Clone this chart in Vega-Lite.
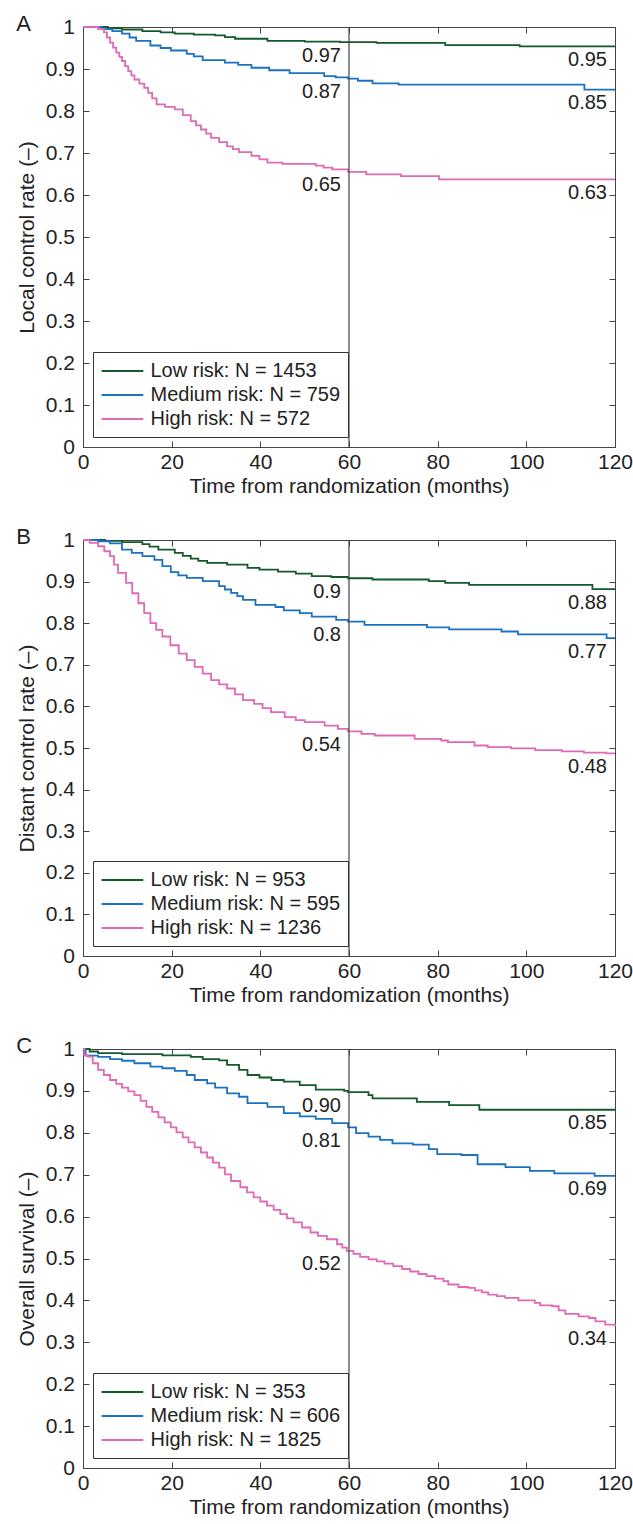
{
  "$schema": "https://vega.github.io/schema/vega-lite/v6.json",
  "padding": {"left": 15, "top": 12, "right": 0, "bottom": 0},
  "bounds": "flush",
  "spacing": 93,
  "config": {
    "font": "Liberation Sans",
    "view": {"stroke": "#444", "strokeWidth": 1},
    "axis": {"grid": false, "domain": false, "tickColor": "#444", "tickWidth": 1, "tickSize": -6, "labelFontSize": 21, "titleFontSize": 21, "titleFontWeight": "normal", "labelColor": "#222", "titleColor": "#222", "labelFlush": false, "labelOverlap": false},
    "title": {"fontSize": 22, "fontWeight": "normal", "color": "#222", "anchor": "start", "frame": "bounds", "baseline": "alphabetic", "offset": 0, "dy": 24},
    "legend": {"orient": "bottom-left", "offset": 10, "direction": "vertical", "strokeColor": "#333", "fillColor": "white", "padding": 7.5, "labelFontSize": 20, "labelColor": "#222", "symbolType": "M-1,0H3", "symbolSize": 435, "symbolStrokeWidth": 2, "labelOffset": 27, "rowPadding": 2, "labelLimit": 400, "title": null}
  },
  "datasets": {
    "A": [
      {"risk":"Low","t":0,"v":1},{"risk":"Low","t":5.6,"v":0.997},{"risk":"Low","t":8.8,"v":0.994},{"risk":"Low","t":13.4,"v":0.99},{"risk":"Low","t":17.5,"v":0.987},{"risk":"Low","t":20.7,"v":0.984},{"risk":"Low","t":25,"v":0.982},{"risk":"Low","t":29.8,"v":0.98},{"risk":"Low","t":32,"v":0.976},{"risk":"Low","t":34.3,"v":0.972},{"risk":"Low","t":41.6,"v":0.967},{"risk":"Low","t":50,"v":0.965},{"risk":"Low","t":58,"v":0.964},{"risk":"Low","t":66.2,"v":0.962},{"risk":"Low","t":81.7,"v":0.957},{"risk":"Low","t":98.5,"v":0.954},{"risk":"Low","t":120,"v":0.954},
      {"risk":"Medium","t":0,"v":1},{"risk":"Medium","t":4.3,"v":0.995},{"risk":"Medium","t":6.6,"v":0.99},{"risk":"Medium","t":8.8,"v":0.984},{"risk":"Medium","t":10.5,"v":0.975},{"risk":"Medium","t":12,"v":0.967},{"risk":"Medium","t":15.2,"v":0.956},{"risk":"Medium","t":17.5,"v":0.95},{"risk":"Medium","t":19.8,"v":0.944},{"risk":"Medium","t":23.4,"v":0.936},{"risk":"Medium","t":25,"v":0.93},{"risk":"Medium","t":27,"v":0.921},{"risk":"Medium","t":32,"v":0.915},{"risk":"Medium","t":35,"v":0.91},{"risk":"Medium","t":38,"v":0.903},{"risk":"Medium","t":42,"v":0.897},{"risk":"Medium","t":46.6,"v":0.89},{"risk":"Medium","t":54.4,"v":0.883},{"risk":"Medium","t":57,"v":0.88},{"risk":"Medium","t":59.8,"v":0.877},{"risk":"Medium","t":62,"v":0.872},{"risk":"Medium","t":65.3,"v":0.866},{"risk":"Medium","t":71.2,"v":0.863},{"risk":"Medium","t":113.1,"v":0.851},{"risk":"Medium","t":120,"v":0.851},
      {"risk":"High","t":0,"v":1},{"risk":"High","t":3.4,"v":0.995},{"risk":"High","t":4.7,"v":0.987},{"risk":"High","t":5.4,"v":0.975},{"risk":"High","t":6.1,"v":0.963},{"risk":"High","t":6.8,"v":0.951},{"risk":"High","t":7.5,"v":0.939},{"risk":"High","t":8.2,"v":0.929},{"risk":"High","t":8.8,"v":0.919},{"risk":"High","t":9.5,"v":0.907},{"risk":"High","t":10.2,"v":0.895},{"risk":"High","t":10.9,"v":0.885},{"risk":"High","t":11.6,"v":0.875},{"risk":"High","t":12.7,"v":0.865},{"risk":"High","t":13.8,"v":0.855},{"risk":"High","t":14.7,"v":0.843},{"risk":"High","t":15.6,"v":0.83},{"risk":"High","t":16.6,"v":0.816},{"risk":"High","t":18.5,"v":0.81},{"risk":"High","t":20.7,"v":0.804},{"risk":"High","t":22.5,"v":0.79},{"risk":"High","t":24.3,"v":0.776},{"risk":"High","t":25.5,"v":0.766},{"risk":"High","t":26.6,"v":0.756},{"risk":"High","t":27.8,"v":0.746},{"risk":"High","t":28.9,"v":0.736},{"risk":"High","t":30.7,"v":0.726},{"risk":"High","t":32.5,"v":0.716},{"risk":"High","t":33.8,"v":0.709},{"risk":"High","t":35.2,"v":0.702},{"risk":"High","t":38,"v":0.693},{"risk":"High","t":39.8,"v":0.685},{"risk":"High","t":41.6,"v":0.677},{"risk":"High","t":45,"v":0.674},{"risk":"High","t":52.5,"v":0.67},{"risk":"High","t":54.3,"v":0.665},{"risk":"High","t":56.2,"v":0.661},{"risk":"High","t":59.8,"v":0.655},{"risk":"High","t":63.9,"v":0.649},{"risk":"High","t":71.7,"v":0.645},{"risk":"High","t":80.3,"v":0.637},{"risk":"High","t":120,"v":0.637}
    ],
    "B": [
      {"risk":"Low","t":0,"v":1},{"risk":"Low","t":5,"v":0.998},{"risk":"Low","t":8.8,"v":0.995},{"risk":"Low","t":13.4,"v":0.99},{"risk":"Low","t":15,"v":0.984},{"risk":"Low","t":17,"v":0.977},{"risk":"Low","t":20.7,"v":0.969},{"risk":"Low","t":22.5,"v":0.962},{"risk":"Low","t":24.3,"v":0.955},{"risk":"Low","t":26,"v":0.95},{"risk":"Low","t":28,"v":0.945},{"risk":"Low","t":32.5,"v":0.941},{"risk":"Low","t":37.1,"v":0.933},{"risk":"Low","t":39.8,"v":0.929},{"risk":"Low","t":44,"v":0.924},{"risk":"Low","t":48,"v":0.919},{"risk":"Low","t":51.6,"v":0.913},{"risk":"Low","t":56,"v":0.911},{"risk":"Low","t":59.8,"v":0.908},{"risk":"Low","t":65.3,"v":0.905},{"risk":"Low","t":78,"v":0.901},{"risk":"Low","t":81.7,"v":0.897},{"risk":"Low","t":87.1,"v":0.892},{"risk":"Low","t":114.9,"v":0.882},{"risk":"Low","t":120,"v":0.882},
      {"risk":"Medium","t":0,"v":1},{"risk":"Medium","t":3.4,"v":0.997},{"risk":"Medium","t":6.1,"v":0.992},{"risk":"Medium","t":8.8,"v":0.977},{"risk":"Medium","t":11,"v":0.969},{"risk":"Medium","t":13.4,"v":0.961},{"risk":"Medium","t":16.1,"v":0.952},{"risk":"Medium","t":17.9,"v":0.937},{"risk":"Medium","t":19.8,"v":0.923},{"risk":"Medium","t":21.5,"v":0.915},{"risk":"Medium","t":23.4,"v":0.909},{"risk":"Medium","t":27,"v":0.901},{"risk":"Medium","t":30.7,"v":0.889},{"risk":"Medium","t":32,"v":0.881},{"risk":"Medium","t":33.4,"v":0.873},{"risk":"Medium","t":34.8,"v":0.865},{"risk":"Medium","t":36.1,"v":0.856},{"risk":"Medium","t":38.9,"v":0.844},{"risk":"Medium","t":43.4,"v":0.839},{"risk":"Medium","t":45.3,"v":0.831},{"risk":"Medium","t":48.9,"v":0.824},{"risk":"Medium","t":51.6,"v":0.816},{"risk":"Medium","t":57.1,"v":0.808},{"risk":"Medium","t":59.8,"v":0.804},{"risk":"Medium","t":63.5,"v":0.796},{"risk":"Medium","t":77.6,"v":0.79},{"risk":"Medium","t":82.6,"v":0.785},{"risk":"Medium","t":94.4,"v":0.78},{"risk":"Medium","t":98.1,"v":0.773},{"risk":"Medium","t":118.1,"v":0.764},{"risk":"Medium","t":120,"v":0.764},
      {"risk":"High","t":0,"v":1},{"risk":"High","t":1.5,"v":0.993},{"risk":"High","t":3.4,"v":0.985},{"risk":"High","t":4.8,"v":0.973},{"risk":"High","t":6.1,"v":0.961},{"risk":"High","t":7,"v":0.941},{"risk":"High","t":7.9,"v":0.921},{"risk":"High","t":9.7,"v":0.897},{"risk":"High","t":11.1,"v":0.872},{"risk":"High","t":12.5,"v":0.848},{"risk":"High","t":13.8,"v":0.824},{"risk":"High","t":15.2,"v":0.8},{"risk":"High","t":16.5,"v":0.784},{"risk":"High","t":17.9,"v":0.768},{"risk":"High","t":19.7,"v":0.747},{"risk":"High","t":21.6,"v":0.727},{"risk":"High","t":23.4,"v":0.711},{"risk":"High","t":25.2,"v":0.695},{"risk":"High","t":27,"v":0.679},{"risk":"High","t":28.9,"v":0.663},{"risk":"High","t":30.7,"v":0.653},{"risk":"High","t":32.5,"v":0.643},{"risk":"High","t":34.3,"v":0.629},{"risk":"High","t":36.1,"v":0.615},{"risk":"High","t":38.6,"v":0.606},{"risk":"High","t":40.5,"v":0.596},{"risk":"High","t":42.4,"v":0.586},{"risk":"High","t":45.5,"v":0.574},{"risk":"High","t":48,"v":0.567},{"risk":"High","t":50,"v":0.562},{"risk":"High","t":54.5,"v":0.554},{"risk":"High","t":57.5,"v":0.546},{"risk":"High","t":59.8,"v":0.54},{"risk":"High","t":62.8,"v":0.534},{"risk":"High","t":65.8,"v":0.53},{"risk":"High","t":74.8,"v":0.522},{"risk":"High","t":80.8,"v":0.518},{"risk":"High","t":82.3,"v":0.514},{"risk":"High","t":88.3,"v":0.506},{"risk":"High","t":91.3,"v":0.502},{"risk":"High","t":96.6,"v":0.499},{"risk":"High","t":102,"v":0.495},{"risk":"High","t":108,"v":0.492},{"risk":"High","t":113,"v":0.489},{"risk":"High","t":118,"v":0.487},{"risk":"High","t":120,"v":0.487}
    ],
    "C": [
      {"risk":"Low","t":0,"v":1},{"risk":"Low","t":1.5,"v":0.994},{"risk":"Low","t":3.4,"v":0.99},{"risk":"Low","t":8.8,"v":0.988},{"risk":"Low","t":17.9,"v":0.985},{"risk":"Low","t":24.3,"v":0.981},{"risk":"Low","t":27,"v":0.976},{"risk":"Low","t":30.7,"v":0.973},{"risk":"Low","t":32.5,"v":0.962},{"risk":"Low","t":35.2,"v":0.95},{"risk":"Low","t":37.1,"v":0.938},{"risk":"Low","t":39.8,"v":0.932},{"risk":"Low","t":42.5,"v":0.926},{"risk":"Low","t":45.3,"v":0.922},{"risk":"Low","t":48.9,"v":0.914},{"risk":"Low","t":52.5,"v":0.903},{"risk":"Low","t":58.9,"v":0.9},{"risk":"Low","t":59.8,"v":0.897},{"risk":"Low","t":64.4,"v":0.89},{"risk":"Low","t":65.3,"v":0.882},{"risk":"Low","t":75.3,"v":0.874},{"risk":"Low","t":82.6,"v":0.866},{"risk":"Low","t":89.4,"v":0.855},{"risk":"Low","t":120,"v":0.855},
      {"risk":"Medium","t":0,"v":1},{"risk":"Medium","t":0.6,"v":0.984},{"risk":"Medium","t":3.4,"v":0.981},{"risk":"Medium","t":6.1,"v":0.976},{"risk":"Medium","t":8.8,"v":0.972},{"risk":"Medium","t":11.6,"v":0.966},{"risk":"Medium","t":15.2,"v":0.958},{"risk":"Medium","t":17.9,"v":0.954},{"risk":"Medium","t":20.7,"v":0.948},{"risk":"Medium","t":23.4,"v":0.938},{"risk":"Medium","t":25.2,"v":0.926},{"risk":"Medium","t":28,"v":0.918},{"risk":"Medium","t":29.8,"v":0.908},{"risk":"Medium","t":32.5,"v":0.894},{"risk":"Medium","t":35.2,"v":0.886},{"risk":"Medium","t":37.1,"v":0.871},{"risk":"Medium","t":41.6,"v":0.862},{"risk":"Medium","t":45.3,"v":0.847},{"risk":"Medium","t":48.9,"v":0.839},{"risk":"Medium","t":52.5,"v":0.833},{"risk":"Medium","t":56.2,"v":0.823},{"risk":"Medium","t":59.8,"v":0.813},{"risk":"Medium","t":61.6,"v":0.799},{"risk":"Medium","t":64.4,"v":0.791},{"risk":"Medium","t":67,"v":0.783},{"risk":"Medium","t":69.8,"v":0.775},{"risk":"Medium","t":74.4,"v":0.772},{"risk":"Medium","t":78,"v":0.761},{"risk":"Medium","t":79.9,"v":0.749},{"risk":"Medium","t":85.3,"v":0.747},{"risk":"Medium","t":89,"v":0.725},{"risk":"Medium","t":95.3,"v":0.718},{"risk":"Medium","t":100.8,"v":0.709},{"risk":"Medium","t":106.3,"v":0.703},{"risk":"Medium","t":115.4,"v":0.697},{"risk":"Medium","t":120,"v":0.697},
      {"risk":"High","t":0,"v":1},{"risk":"High","t":0.3,"v":0.985},{"risk":"High","t":1.1,"v":0.982},{"risk":"High","t":2.2,"v":0.966},{"risk":"High","t":3.4,"v":0.95},{"risk":"High","t":4.7,"v":0.938},{"risk":"High","t":6.1,"v":0.926},{"risk":"High","t":7.5,"v":0.917},{"risk":"High","t":8.8,"v":0.908},{"risk":"High","t":10.2,"v":0.899},{"risk":"High","t":11.6,"v":0.89},{"risk":"High","t":13,"v":0.876},{"risk":"High","t":14.3,"v":0.862},{"risk":"High","t":15.6,"v":0.85},{"risk":"High","t":17,"v":0.837},{"risk":"High","t":18.4,"v":0.825},{"risk":"High","t":19.8,"v":0.813},{"risk":"High","t":21.1,"v":0.801},{"risk":"High","t":22.5,"v":0.789},{"risk":"High","t":23.8,"v":0.777},{"risk":"High","t":25.2,"v":0.765},{"risk":"High","t":26.6,"v":0.753},{"risk":"High","t":28,"v":0.741},{"risk":"High","t":29.3,"v":0.729},{"risk":"High","t":30.7,"v":0.717},{"risk":"High","t":32,"v":0.701},{"risk":"High","t":33.4,"v":0.685},{"risk":"High","t":35.5,"v":0.67},{"risk":"High","t":37,"v":0.658},{"risk":"High","t":38.5,"v":0.646},{"risk":"High","t":40,"v":0.636},{"risk":"High","t":41.5,"v":0.626},{"risk":"High","t":43,"v":0.616},{"risk":"High","t":44.5,"v":0.606},{"risk":"High","t":46,"v":0.596},{"risk":"High","t":47.5,"v":0.586},{"risk":"High","t":49.4,"v":0.574},{"risk":"High","t":51.3,"v":0.562},{"risk":"High","t":53,"v":0.554},{"risk":"High","t":55,"v":0.546},{"risk":"High","t":57.3,"v":0.534},{"risk":"High","t":58.5,"v":0.526},{"risk":"High","t":59.5,"v":0.518},{"risk":"High","t":61,"v":0.511},{"risk":"High","t":62.5,"v":0.504},{"risk":"High","t":64.4,"v":0.498},{"risk":"High","t":66.3,"v":0.493},{"risk":"High","t":68,"v":0.488},{"risk":"High","t":70,"v":0.482},{"risk":"High","t":72,"v":0.475},{"risk":"High","t":73.8,"v":0.469},{"risk":"High","t":75.7,"v":0.463},{"risk":"High","t":77.5,"v":0.458},{"risk":"High","t":79.4,"v":0.452},{"risk":"High","t":81.3,"v":0.446},{"risk":"High","t":82.4,"v":0.438},{"risk":"High","t":84.7,"v":0.432},{"risk":"High","t":86.9,"v":0.43},{"risk":"High","t":88.4,"v":0.424},{"risk":"High","t":90,"v":0.419},{"risk":"High","t":91.4,"v":0.414},{"risk":"High","t":93.3,"v":0.41},{"risk":"High","t":95.2,"v":0.406},{"risk":"High","t":98.2,"v":0.4},{"risk":"High","t":101.9,"v":0.394},{"risk":"High","t":103.1,"v":0.388},{"risk":"High","t":105.8,"v":0.386},{"risk":"High","t":107.3,"v":0.376},{"risk":"High","t":108.8,"v":0.368},{"risk":"High","t":111.8,"v":0.362},{"risk":"High","t":114.1,"v":0.358},{"risk":"High","t":115.6,"v":0.35},{"risk":"High","t":117.8,"v":0.342},{"risk":"High","t":120,"v":0.339}
    ],
    "ann": [
      {"panel":"A","t":60,"v":0.963,"label":"0.97"},{"panel":"A","t":120,"v":0.954,"label":"0.95"},{"panel":"A","t":60,"v":0.877,"label":"0.87"},{"panel":"A","t":120,"v":0.851,"label":"0.85"},{"panel":"A","t":60,"v":0.655,"label":"0.65"},{"panel":"A","t":120,"v":0.637,"label":"0.63"},
      {"panel":"B","t":60,"v":0.908,"label":"0.9"},{"panel":"B","t":120,"v":0.882,"label":"0.88"},{"panel":"B","t":60,"v":0.804,"label":"0.8"},{"panel":"B","t":120,"v":0.764,"label":"0.77"},{"panel":"B","t":60,"v":0.54,"label":"0.54"},{"panel":"B","t":120,"v":0.487,"label":"0.48"},
      {"panel":"C","t":60,"v":0.897,"label":"0.90"},{"panel":"C","t":120,"v":0.855,"label":"0.85"},{"panel":"C","t":60,"v":0.813,"label":"0.81"},{"panel":"C","t":120,"v":0.697,"label":"0.69"},{"panel":"C","t":60,"v":0.518,"label":"0.52"},{"panel":"C","t":120,"v":0.339,"label":"0.34"}
    ]
  },
  "vconcat": [
    {
      "width": 532, "height": 420,
      "title": {"text": "A"},
      "resolve": {"axis": {"x": "independent", "y": "independent"}},
      "layer": [
        {"data": {"name": "A"}, "mark": {"type": "line", "interpolate": "step-after", "strokeWidth": 1.8},
         "encoding": {
           "x": {"field": "t", "type": "quantitative", "scale": {"domain": [0, 120], "nice": false, "zero": false}, "axis": {"orient": "bottom", "values": [0, 20, 40, 60, 80, 100, 120], "title": "Time from randomization (months)", "labelPadding": 10, "titlePadding": 3}},
           "y": {"field": "v", "type": "quantitative", "scale": {"domain": [0, 1], "nice": false}, "axis": {"orient": "left", "values": [0, 0.1, 0.2, 0.3, 0.4, 0.5, 0.6, 0.7, 0.8, 0.9, 1], "format": "~g", "title": "Local control rate (–)", "labelPadding": 14.5, "titlePadding": 8}},
           "color": {"field": "risk", "type": "nominal", "scale": {"domain": ["Low", "Medium", "High"], "range": ["#13592b", "#1b72c2", "#e06ab4"]}, "legend": {"labelExpr": "datum.label == 'Low' ? 'Low risk: N = 1453' : datum.label == 'Medium' ? 'Medium risk: N = 759' : 'High risk: N = 572'"}}
         }},
        {"data": {"values": [{}]}, "mark": {"type": "rule", "color": "#444", "strokeWidth": 1.2},
         "encoding": {"x": {"datum": 60, "type": "quantitative", "scale": {"domain": [0, 120], "nice": false, "zero": false}, "axis": null}}},
        {"data": {"name": "ann"}, "transform": [{"filter": "datum.panel == 'A'"}],
         "mark": {"type": "text", "align": "right", "baseline": "top", "dx": -8, "dy": 3.5, "fontSize": 20, "color": "#222"},
         "encoding": {
           "x": {"field": "t", "type": "quantitative", "scale": {"domain": [0, 120], "nice": false, "zero": false}, "axis": {"orient": "top", "values": [0, 20, 40, 60, 80, 100, 120], "labels": false, "title": null}},
           "y": {"field": "v", "type": "quantitative", "scale": {"domain": [0, 1], "nice": false}, "axis": {"orient": "right", "values": [0, 0.1, 0.2, 0.3, 0.4, 0.5, 0.6, 0.7, 0.8, 0.9, 1], "labels": false, "title": null}},
           "text": {"field": "label"}
         }}
      ]
    },
    {
      "width": 532, "height": 416,
      "title": {"text": "B"},
      "resolve": {"axis": {"x": "independent", "y": "independent"}},
      "layer": [
        {"data": {"name": "B"}, "mark": {"type": "line", "interpolate": "step-after", "strokeWidth": 1.8},
         "encoding": {
           "x": {"field": "t", "type": "quantitative", "scale": {"domain": [0, 120], "nice": false, "zero": false}, "axis": {"orient": "bottom", "values": [0, 20, 40, 60, 80, 100, 120], "title": "Time from randomization (months)", "labelPadding": 10, "titlePadding": 3}},
           "y": {"field": "v", "type": "quantitative", "scale": {"domain": [0, 1], "nice": false}, "axis": {"orient": "left", "values": [0, 0.1, 0.2, 0.3, 0.4, 0.5, 0.6, 0.7, 0.8, 0.9, 1], "format": "~g", "title": "Distant control rate (–)", "labelPadding": 14.5, "titlePadding": 8}},
           "color": {"field": "risk", "type": "nominal", "scale": {"domain": ["Low", "Medium", "High"], "range": ["#13592b", "#1b72c2", "#e06ab4"]}, "legend": {"labelExpr": "datum.label == 'Low' ? 'Low risk: N = 953' : datum.label == 'Medium' ? 'Medium risk: N = 595' : 'High risk: N = 1236'"}}
         }},
        {"data": {"values": [{}]}, "mark": {"type": "rule", "color": "#444", "strokeWidth": 1.2},
         "encoding": {"x": {"datum": 60, "type": "quantitative", "scale": {"domain": [0, 120], "nice": false, "zero": false}, "axis": null}}},
        {"data": {"name": "ann"}, "transform": [{"filter": "datum.panel == 'B'"}],
         "mark": {"type": "text", "align": "right", "baseline": "top", "dx": -8, "dy": 3.5, "fontSize": 20, "color": "#222"},
         "encoding": {
           "x": {"field": "t", "type": "quantitative", "scale": {"domain": [0, 120], "nice": false, "zero": false}, "axis": {"orient": "top", "values": [0, 20, 40, 60, 80, 100, 120], "labels": false, "title": null}},
           "y": {"field": "v", "type": "quantitative", "scale": {"domain": [0, 1], "nice": false}, "axis": {"orient": "right", "values": [0, 0.1, 0.2, 0.3, 0.4, 0.5, 0.6, 0.7, 0.8, 0.9, 1], "labels": false, "title": null}},
           "text": {"field": "label"}
         }}
      ]
    },
    {
      "width": 532, "height": 419,
      "title": {"text": "C"},
      "resolve": {"axis": {"x": "independent", "y": "independent"}},
      "layer": [
        {"data": {"name": "C"}, "mark": {"type": "line", "interpolate": "step-after", "strokeWidth": 1.8},
         "encoding": {
           "x": {"field": "t", "type": "quantitative", "scale": {"domain": [0, 120], "nice": false, "zero": false}, "axis": {"orient": "bottom", "values": [0, 20, 40, 60, 80, 100, 120], "title": "Time from randomization (months)", "labelPadding": 10, "titlePadding": 3}},
           "y": {"field": "v", "type": "quantitative", "scale": {"domain": [0, 1], "nice": false}, "axis": {"orient": "left", "values": [0, 0.1, 0.2, 0.3, 0.4, 0.5, 0.6, 0.7, 0.8, 0.9, 1], "format": "~g", "title": "Overall survival (–)", "labelPadding": 14.5, "titlePadding": 8}},
           "color": {"field": "risk", "type": "nominal", "scale": {"domain": ["Low", "Medium", "High"], "range": ["#13592b", "#1b72c2", "#e06ab4"]}, "legend": {"labelExpr": "datum.label == 'Low' ? 'Low risk: N = 353' : datum.label == 'Medium' ? 'Medium risk: N = 606' : 'High risk: N = 1825'"}}
         }},
        {"data": {"values": [{}]}, "mark": {"type": "rule", "color": "#444", "strokeWidth": 1.2},
         "encoding": {"x": {"datum": 60, "type": "quantitative", "scale": {"domain": [0, 120], "nice": false, "zero": false}, "axis": null}}},
        {"data": {"name": "ann"}, "transform": [{"filter": "datum.panel == 'C'"}],
         "mark": {"type": "text", "align": "right", "baseline": "top", "dx": -8, "dy": 3.5, "fontSize": 20, "color": "#222"},
         "encoding": {
           "x": {"field": "t", "type": "quantitative", "scale": {"domain": [0, 120], "nice": false, "zero": false}, "axis": {"orient": "top", "values": [0, 20, 40, 60, 80, 100, 120], "labels": false, "title": null}},
           "y": {"field": "v", "type": "quantitative", "scale": {"domain": [0, 1], "nice": false}, "axis": {"orient": "right", "values": [0, 0.1, 0.2, 0.3, 0.4, 0.5, 0.6, 0.7, 0.8, 0.9, 1], "labels": false, "title": null}},
           "text": {"field": "label"}
         }}
      ]
    }
  ],
  "resolve": {"scale": {"color": "independent"}, "legend": {"color": "independent"}}
}
